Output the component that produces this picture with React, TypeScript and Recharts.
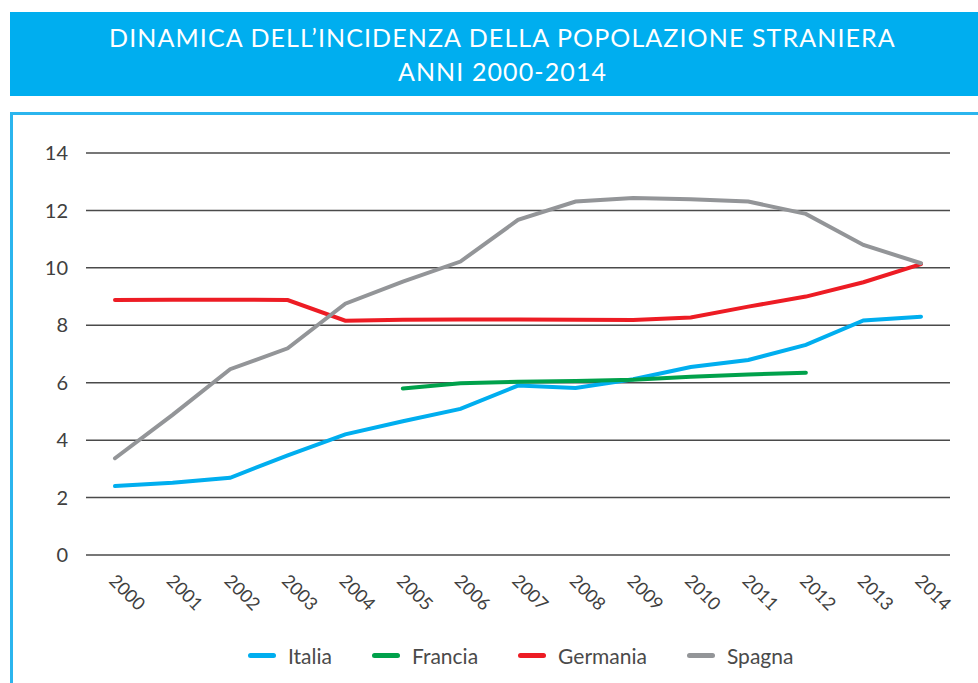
import { LineChart, Line, XAxis, YAxis, CartesianGrid } from "recharts";

const years = [
  "2000", "2001", "2002", "2003", "2004", "2005", "2006", "2007",
  "2008", "2009", "2010", "2011", "2012", "2013", "2014",
];
const italia = [2.4, 2.52, 2.69, 3.47, 4.2, 4.66, 5.09, 5.9, 5.82, 6.12, 6.55, 6.79, 7.32, 8.17, 8.3];
const francia = [null, null, null, null, null, 5.8, 5.98, 6.03, 6.06, 6.1, 6.21, 6.29, 6.35, null, null];
const germania = [8.88, 8.89, 8.89, 8.88, 8.16, 8.19, 8.2, 8.2, 8.19, 8.18, 8.27, 8.65, 9.0, 9.5, 10.13];
const spagna = [3.37, 4.88, 6.47, 7.2, 8.75, 9.52, 10.22, 11.67, 12.31, 12.43, 12.39, 12.31, 11.88, 10.8, 10.16];
const yTicks = [0, 2, 4, 6, 8, 10, 12, 14];

const series = [
  { key: "Italia", color: "#00AEEF" },
  { key: "Francia", color: "#00A14B" },
  { key: "Germania", color: "#ED1C24" },
  { key: "Spagna", color: "#939598" },
];

const data = years.map((year, i) => ({
  year,
  Italia: italia[i],
  Francia: francia[i],
  Germania: germania[i],
  Spagna: spagna[i],
}));

const FONT = "Lato, 'Open Sans', sans-serif";
const TEXT = "#404040";

// rotated year labels, going down to the right
const YearTick = (props: any) => {
  const { x, y, payload } = props;
  return (
    <text
      transform={`translate(${x - 7},${y + 27}) rotate(45)`}
      textAnchor="start"
      fontSize={18}
      fontFamily={FONT}
      fill={TEXT}
    >
      {payload.value}
    </text>
  );
};

export default function App() {
  return (
    <div
      style={{
        position: "absolute",
        left: 0,
        top: 0,
        width: 978,
        height: 683,
        overflow: "hidden",
        background: "#fff",
        fontFamily: FONT,
      }}
    >
      {/* title box */}
      <div
        style={{
          position: "absolute",
          left: 10,
          top: 12,
          width: 985,
          height: 84,
          background: "#00AEEF",
          color: "#fff",
          textAlign: "center",
          fontSize: 25,
          letterSpacing: 1.1,
          lineHeight: "34px",
          paddingTop: 8,
          boxSizing: "border-box",
        }}
      >
        DINAMICA DELL’INCIDENZA DELLA POPOLAZIONE STRANIERA
        <br />
        ANNI 2000-2014
      </div>

      {/* chart frame */}
      <div
        style={{
          position: "absolute",
          left: 10,
          top: 112,
          width: 990,
          height: 600,
          borderTop: "3px solid #2BB5EE",
          borderLeft: "3px solid #2BB5EE",
        }}
      />

      <div style={{ position: "absolute", left: 0, top: 0 }}>
        <LineChart
          width={978}
          height={683}
          data={data}
          margin={{ top: 153, right: 28, bottom: 68, left: 36 }}
        >
          <CartesianGrid vertical={false} stroke="#4a4a4a" strokeWidth={1.5} />
          <XAxis
            dataKey="year"
            padding={{ left: 29, right: 29 }}
            axisLine={false}
            tickLine={false}
            tickSize={0}
            tickMargin={0}
            height={60}
            interval={0}
            tick={<YearTick />}
          />
          <YAxis
            domain={[0, 14]}
            ticks={yTicks}
            width={50}
            axisLine={false}
            tickLine={false}
            tickSize={0}
            tickMargin={18}
            tick={{ fontSize: 20, fontFamily: FONT, fill: TEXT }}
          />
          {series.map((s) => (
            <Line
              key={s.key}
              dataKey={s.key}
              stroke={s.color}
              strokeWidth={4}
              strokeLinecap="round"
              dot={false}
              activeDot={false}
              isAnimationActive={false}
            />
          ))}
        </LineChart>
      </div>

      {/* legend */}
      <div
        style={{
          position: "absolute",
          left: 248,
          top: 643,
          display: "flex",
          alignItems: "center",
          gap: 40,
          fontSize: 21,
          color: "#4a4a4a",
        }}
      >
        {series.map((s) => (
          <div key={s.key} style={{ display: "flex", alignItems: "center", gap: 12 }}>
            <span
              style={{
                display: "inline-block",
                width: 28,
                height: 5,
                borderRadius: 3,
                background: s.color,
              }}
            />
            <span>{s.key}</span>
          </div>
        ))}
      </div>
    </div>
  );
}
